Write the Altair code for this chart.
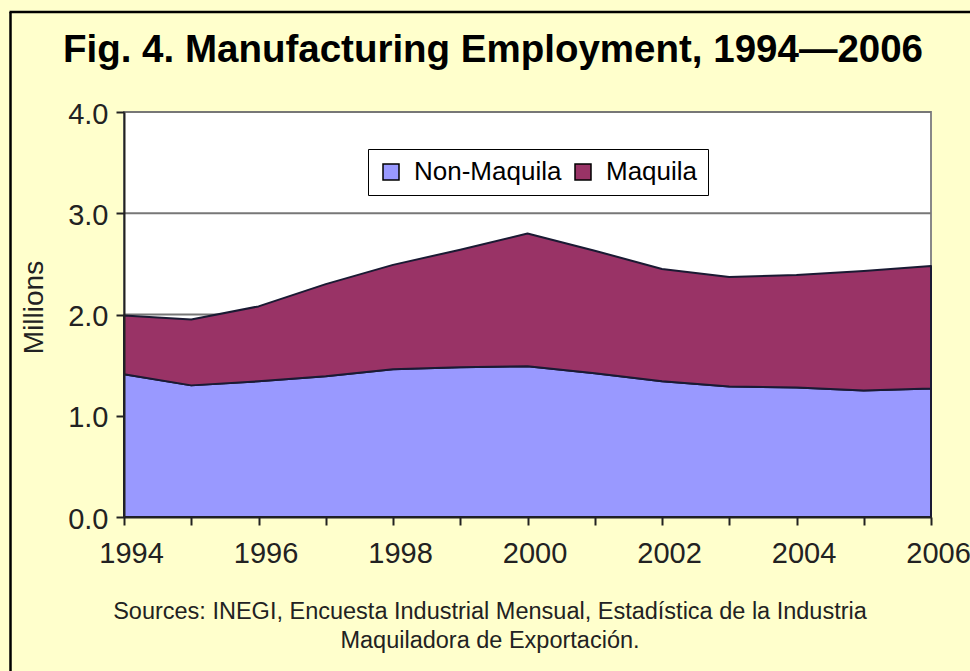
import altair as alt
import pandas as pd

# Employment in millions, by year
years = list(range(1994, 2007))
non_maquila = [1.41, 1.30, 1.34, 1.39, 1.46, 1.48, 1.49, 1.42, 1.34, 1.29, 1.28, 1.25, 1.27]
maquila = [0.58, 0.65, 0.74, 0.91, 1.03, 1.16, 1.31, 1.21, 1.11, 1.08, 1.11, 1.18, 1.21]

series_names = ["Non-Maquila", "Maquila"]
series_colors = ["#9999FF", "#993366"]
y_ticks = [0, 1, 2, 3, 4]
grid_values = [1, 2, 3, 4]

title_text = "Fig. 4. Manufacturing Employment, 1994\u20142006"
source_lines = [
    "Sources: INEGI, Encuesta Industrial Mensual, Estad\u00edstica de la Industria",
    "Maquiladora de Exportaci\u00f3n.",
]

FONT = "Liberation Sans"
INK = "#222222"

# stacked bands: Non-Maquila from zero, Maquila on top of it
rows = []
for i, yr in enumerate(years):
    base = non_maquila[i]
    rows.append({"year": yr, "series": "Non-Maquila", "lower": 0.0, "upper": base})
    rows.append({"year": yr, "series": "Maquila", "lower": base, "upper": base + maquila[i]})
df = pd.DataFrame(rows)

W, H = 807, 405
LEFT, TOP = 124, 112

y_scale = alt.Scale(domain=[0, 4], nice=False)
y_axis = alt.Axis(
    values=y_ticks,
    format=".1f",
    title="Millions",
    titleFont=FONT,
    titleFontSize=28,
    titleFontWeight="normal",
    titleColor=INK,
    titleAngle=270,
    titleAlign="center",
    titleBaseline="middle",
    titleX=-90,
    titleY=195,
    grid=False,
    domainColor=INK,
    domainWidth=2,
    tickColor=INK,
    tickWidth=2,
    tickSize=8,
    labelFont=FONT,
    labelFontSize=29,
    labelColor=INK,
    labelPadding=8,
    labelOffset=2,
    zindex=1,
)

# horizontal gridlines behind the stacked areas
grid = alt.Chart(pd.DataFrame({"g": grid_values})).mark_rule(
    color="#777777", strokeWidth=2
).encode(y=alt.Y("g:Q", scale=y_scale, axis=y_axis))

areas = alt.Chart(df).mark_area(
    opacity=1, stroke="#1a1a33", strokeWidth=2, strokeJoin="round"
).encode(
    x=alt.X(
        "year:Q",
        scale=alt.Scale(domain=[1994, 2006], nice=False, zero=False),
        axis=alt.Axis(
            values=years,
            format="d",
            labelExpr="datum.value % 2 == 0 ? datum.label : ''",
            title=None,
            grid=False,
            domainColor=INK,
            domainWidth=2,
            tickColor=INK,
            tickWidth=2,
            tickSize=8,
            labelFont=FONT,
            labelFontSize=29,
            labelColor=INK,
            labelPadding=14,
            labelOffset=7,
            labelFlush=False,
            labelOverlap=False,
            zindex=1,
        ),
    ),
    y=alt.Y("upper:Q", scale=y_scale, axis=y_axis),
    y2="lower:Q",
    color=alt.Color(
        "series:N",
        scale=alt.Scale(domain=series_names, range=series_colors),
        legend=alt.Legend(
            title=None,
            orient="none",
            legendX=244,
            legendY=37,
            direction="horizontal",
            fillColor="white",
            strokeColor="black",
            padding=10,
            symbolType="square",
            symbolSize=256,
            symbolStrokeColor="black",
            symbolStrokeWidth=1.5,
            symbolOpacity=1,
            labelFont=FONT,
            labelFontSize=26,
            labelColor="black",
            labelOffset=10,
            columnPadding=8,
        ),
    ),
    detail="series:N",
)

one = pd.DataFrame({"k": [0]})

heading = alt.Chart(one).mark_text(
    text=title_text, font=FONT, fontSize=38.5, fontWeight="bold",
    align="center", baseline="alphabetic", color="black",
).encode(x=alt.value(369), y=alt.value(-50))

sources = alt.Chart(one).mark_text(
    text=source_lines, font=FONT, fontSize=23.5, lineHeight=29,
    align="center", baseline="alphabetic", color=INK,
).encode(x=alt.value(366), y=alt.value(507))

frame_left = alt.Chart(one).mark_rule(color="black", strokeWidth=2.5).encode(
    x=alt.value(-113.5), y=alt.value(-100), y2=alt.value(570)
)
frame_top = alt.Chart(one).mark_rule(color="black", strokeWidth=2.5).encode(
    x=alt.value(-114.5), x2=alt.value(860), y=alt.value(-100)
)

chart = alt.layer(grid, areas, heading, sources, frame_left, frame_top).properties(
    width=W,
    height=H,
    background="#FFFFCC",
    padding={"left": LEFT, "top": TOP, "right": 970 - LEFT - W, "bottom": 671 - TOP - H},
    autosize=alt.AutoSizeParams(type="none"),
).configure_view(
    stroke="#888888", strokeWidth=2, fill="white"
)

chart.save("out.html", embed_options={"renderer": "svg", "actions": False})
